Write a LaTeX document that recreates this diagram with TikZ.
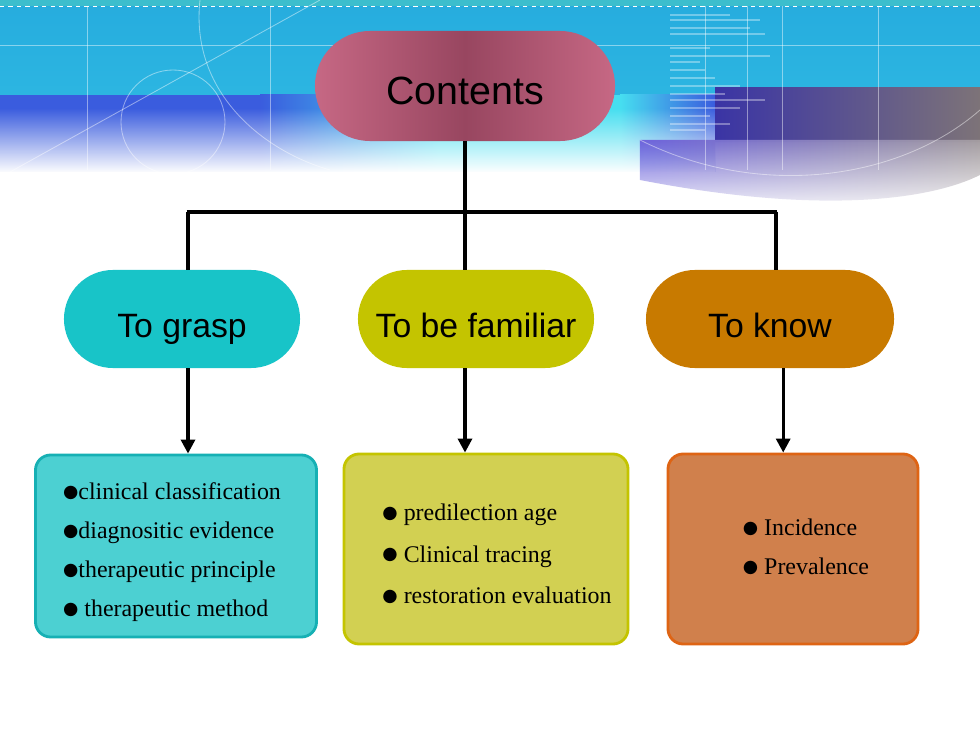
\documentclass[tikz,border=0pt]{standalone}
\usepackage{fontspec}
\setmainfont{Liberation Serif}
\setsansfont{Liberation Sans}
\newfontfamily\dotfont{DejaVu Sans}
\usetikzlibrary{shapes.misc,fadings,arrows.meta}

\definecolor{sky}{RGB}{38,172,222}
\definecolor{skytop}{RGB}{60,190,205}
\definecolor{deepblue}{RGB}{58,92,222}
\definecolor{cyanband}{RGB}{70,222,240}
\definecolor{purple}{RGB}{58,52,165}
\definecolor{lavender}{RGB}{110,100,220}
\definecolor{greyR}{RGB}{125,115,120}
\definecolor{roseL}{RGB}{198,104,132}
\definecolor{roseD}{RGB}{152,70,96}
\definecolor{grasp}{RGB}{24,196,200}
\definecolor{familiar}{RGB}{196,196,0}
\definecolor{know}{RGB}{200,122,0}
\definecolor{graspbox}{RGB}{76,208,210}
\definecolor{familiarbox}{RGB}{210,208,82}
\definecolor{knowbox}{RGB}{208,128,76}
\definecolor{knowedge}{RGB}{222,100,20}

\newcommand{\itemdot}{\raisebox{1.6pt}{\dotfont\fontsize{12.5}{12.5}\selectfont ●}}

\begin{document}
\begin{tikzpicture}[x=0.025cm, y=-0.025cm,
  pill/.style={shape=rounded rectangle, minimum width=5.9cm, minimum height=2.45cm, inner sep=0pt,
    text height=27pt, text depth=0pt, font=\sffamily\fontsize{24}{24}\selectfont},
  card/.style={rounded corners=0.38cm, line width=2pt, minimum height=4.75cm},
  list/.style={align=left, font=\fontsize{17}{27.7}\selectfont},
  link/.style={line width=2.3pt},
  arrow/.style={line width=2.3pt, -{Triangle[length=10pt,width=10pt]}},
  deco/.style={white, opacity=0.45, line width=0.6pt}]
\useasboundingbox (0,0) rectangle (980,735);
\fill[white] (0,0) rectangle (980,735);

% header background
\shade[top color=sky, bottom color=sky!80!cyanband] (0,0) rectangle (980,100);
\fill[skytop] (0,0) rectangle (980,6);
\fill[deepblue] (0,95) rectangle (260,172);
\shade[left color=deepblue, right color=cyanband] (260,95) rectangle (440,172);
\fill[cyanband] (440,95) rectangle (620,172);
\shade[left color=cyanband, right color=deepblue] (620,95) rectangle (715,172);
\fill[white, path fading=north] (0,108) rectangle (715,173);
\shade[left color=purple, right color=greyR] (715,88) rectangle (980,142);
\shade[left color=lavender, right color=greyR!70!white, path fading=south]
  (640,140) -- (980,140) -- (980,175) .. controls (930,200) and (820,215) .. (640,180) -- cycle;
\draw[white, dashed, line width=0.7pt] (0,6) -- (980,6);
\draw[deco] (0,45) -- (980,45);
\foreach \x in {87,270,705,747,782,878}
  \draw[deco] (\x,6) -- (\x,170);
\draw[deco] (10,172) -- (320,0);
\draw[deco] (173,122) circle (52);
\draw[deco] (200,0) .. controls (190,90) and (260,150) .. (330,170);
\draw[deco] (640,140) .. controls (760,200) and (900,180) .. (980,110);
\foreach \y/\l in {15/60,20/90,28/80,34/95,48/40,56/100,62/30,70/35,78/45,86/70,94/55,100/95,108/70,116/40,124/60,130/35}
  \draw[white, opacity=0.35, line width=0.8pt] (670,\y) -- ++(\l,0);

% nodes
\node[pill, minimum width=7.5cm, minimum height=2.75cm,
  left color=roseL, right color=roseL, middle color=roseD,
  font=\sffamily\fontsize{28}{28}\selectfont] (contents) at (465,86) {Contents};
\node[pill, fill=grasp] (grasp) at (182,319) {To grasp};
\node[pill, fill=familiar] (familiar) at (476,319) {To be familiar};
\node[pill, fill=know, minimum width=6.2cm] (know) at (770,319) {To know};

\node[card, fill=graspbox, draw=grasp!90!black, minimum width=7.025cm, minimum height=4.55cm] (G) at (176,546) {};
\node[card, fill=familiarbox, draw=familiar, minimum width=7.1cm] (F) at (486,549) {};
\node[card, fill=knowbox, draw=knowedge, minimum width=6.25cm] (K) at (793,549) {};

\node[list] (Gtext) at (172,552)
  {\itemdot clinical classification\\ \itemdot diagnositic evidence\\ \itemdot therapeutic principle\\ \itemdot\ therapeutic method};
\node[list, font=\fontsize{17}{29.5}\selectfont] (Ftext) at (497,554)
  {\itemdot\ predilection age\\ \itemdot\ Clinical tracing\\ \itemdot\ restoration evaluation};
\node[list] (Ktext) at (806,547)
  {\itemdot\ Incidence\\ \itemdot\ Prevalence};

% connectors
\coordinate (barL) at (188,212);
\coordinate (barR) at (776,212);
\draw[link] (contents.south) -- (contents.south |- familiar.north);
\draw[link] ([xshift=-1pt]barL) -- ([xshift=1pt]barR);
\draw[link] (barL) -- (barL |- grasp.north);
\draw[link] (barR) -- (barR |- know.north);
\draw[arrow] (grasp.south -| barL) -- (G.north -| barL);
\draw[arrow] (familiar.south -| contents.south) -- (F.north -| contents.south);
\draw[arrow] ([xshift=0.33cm]know.south) -- ([xshift=0.33cm]know.south |- K.north);
\end{tikzpicture}
\end{document}
